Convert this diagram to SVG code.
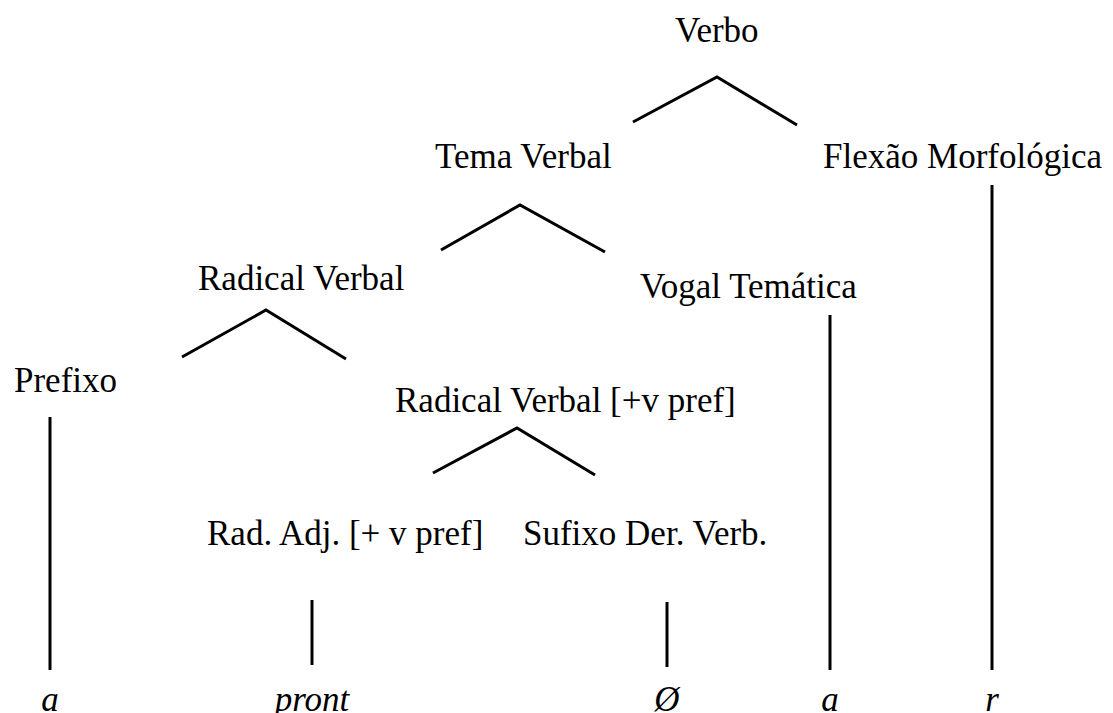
<svg xmlns="http://www.w3.org/2000/svg" width="1113" height="713" viewBox="0 0 1113 713">
<style>
text{font-family:"Liberation Serif","Times New Roman",serif;font-size:35px;fill:#000}
.leaf{font-style:italic}
.c{text-anchor:middle}
line,polyline{stroke:#000;stroke-width:3;fill:none;stroke-linecap:butt;stroke-linejoin:miter}
</style>
<rect width="1113" height="713" fill="#fff"/>
<g id="connectors">
<polyline points="633,122 717,77 797,125"/>
<polyline points="441,250 520,205 605,252"/>
<polyline points="182,357 266,310 346,359"/>
<polyline points="433,473 517,428 595,475"/>
<line x1="992" y1="185" x2="992" y2="670"/>
<line x1="830" y1="315" x2="830" y2="670"/>
<line x1="50" y1="417" x2="50" y2="670"/>
<line x1="312" y1="600" x2="312" y2="665"/>
<line x1="667" y1="602" x2="667" y2="667"/>
</g>
<g id="n-verbo"><text x="675" y="42">Verbo</text></g>
<g id="n-tema"><text x="435" y="168">Tema Verbal</text></g>
<g id="n-flexao"><text x="823" y="168">Flexão Morfológica</text></g>
<g id="n-radical"><text x="198" y="290">Radical Verbal</text></g>
<g id="n-vogal"><text x="640" y="298">Vogal Temática</text></g>
<g id="n-prefixo"><text x="14" y="392">Prefixo</text></g>
<g id="n-radical-pref"><text x="395" y="412">Radical Verbal [+v pref]</text></g>
<g id="n-radadj"><text x="207" y="545">Rad. Adj. [+ v pref]</text></g>
<g id="n-sufixo"><text x="523" y="545">Sufixo Der. Verb.</text></g>
<g id="leaf-a1"><text class="leaf c" x="50" y="711">a</text></g>
<g id="leaf-pront"><text class="leaf c" x="312" y="711">pront</text></g>
<g id="leaf-zero"><text class="leaf c" x="667" y="711">Ø</text></g>
<g id="leaf-a2"><text class="leaf c" x="830" y="711">a</text></g>
<g id="leaf-r"><text class="leaf c" x="992" y="711">r</text></g>
</svg>
